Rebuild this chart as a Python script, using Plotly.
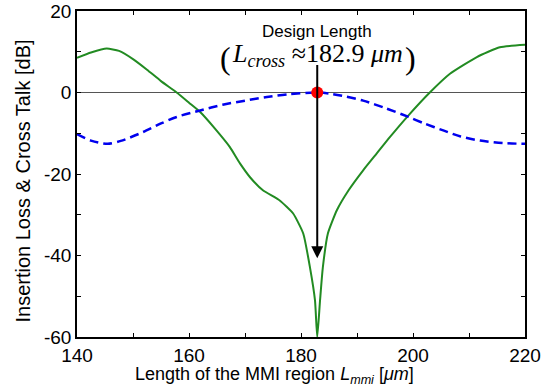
import plotly.graph_objects as go

# Insertion loss (cross port) - green solid
il_x = [140, 142.5, 145.3, 147.5, 150, 152.5, 155, 157.8, 160, 162, 164.9, 167.3, 169.1,
        170.9, 173.2, 176.2, 178.6, 180.4, 181.6, 182.5, 182.9, 183.4, 183.9, 184.8,
        186.4, 188.5, 191.1, 193.5, 195.9, 199.2, 203, 206.6, 211.4, 215.5, 220]
il_y = [8.5, 9.8, 10.8, 10.2, 8.2, 5.6, 2.8, 0, -2.5, -4.8, -9.3, -13.4, -17.4,
        -20.8, -24.0, -26.5, -29.7, -34.6, -42.9, -51, -60, -51, -42.9, -34.6,
        -28.9, -24, -19.1, -15, -10.9, -5.6, 0, 4.6, 8.7, 11.1, 11.7]

# Cross talk - blue dashed
ct_x = [140, 142.5, 145.5, 148, 151.8, 155, 157.8, 162, 166, 170, 173.9, 178, 182.9,
        185.2, 188, 191.1, 195, 199.2, 202, 205.4, 208.5, 212, 216, 220]
ct_y = [-10.2, -11.8, -12.6, -11.8, -9.7, -7.6, -6.0, -4.4, -3.0, -2.0, -1.1, -0.4, 0,
        -0.3, -1.0, -2.0, -3.8, -6.0, -7.6, -9.3, -10.8, -11.8, -12.4, -12.6]

design_x = 182.9
design_y = 0
arrow_top = 7.1
arrow_tip = -40.7

x_ticks = [140, 160, 180, 200, 220]
y_ticks = [-60, -40, -20, 0, 20]
x_minor = [150, 170, 190, 210]
y_minor = [-50, -30, -10, 10]

SANS = "Arial, Liberation Sans"
SERIF = "Times New Roman, Liberation Serif"

fig = go.Figure()
fig.add_trace(go.Scatter(x=il_x, y=il_y, mode="lines", line_shape="spline",
                         line=dict(color="#228B22", width=2, smoothing=0.5), showlegend=False))
fig.add_trace(go.Scatter(x=ct_x, y=ct_y, mode="lines", line_shape="spline",
                         line=dict(color="#0000EE", width=2.5, dash="9px,5px", smoothing=0.8),
                         showlegend=False))

fig.add_annotation(x=design_x, y=arrow_tip, ax=design_x, ay=arrow_top,
                   xref="x", yref="y", axref="x", ayref="y",
                   showarrow=True, arrowhead=2, arrowsize=1.2, arrowwidth=2,
                   arrowcolor="black", text="")
fig.add_trace(go.Scatter(x=[design_x], y=[design_y], mode="markers",
                         marker=dict(color="#FF0000", size=12), showlegend=False))

fig.add_annotation(x=design_x, y=0.938, xref="x", yref="paper", yanchor="middle",
                   text="Design Length", showarrow=False,
                   font=dict(family=SANS, size=17, color="black"))
fig.add_annotation(x=design_x, y=0.866, xref="x", yref="paper", yanchor="middle",
                   text="<i>L</i><sub><i>cross</i></sub> ≈182.9 <i>μm</i>", showarrow=False,
                   font=dict(family=SERIF, size=26, color="black"))
fig.add_annotation(x=166.6, y=0.856, xref="x", yref="paper", yanchor="middle",
                   text="(", showarrow=False,
                   font=dict(family=SERIF, size=32, color="black"))
fig.add_annotation(x=199.6, y=0.856, xref="x", yref="paper", yanchor="middle",
                   text=")", showarrow=False,
                   font=dict(family=SERIF, size=32, color="black"))

# axis titles
fig.add_annotation(x=175.2, y=-0.118, xref="x", yref="paper", yanchor="middle",
                   text="Length of the MMI region <i>L</i><sub><i>mmi</i></sub> [<i>μm</i>]",
                   showarrow=False, font=dict(family=SANS, size=18, color="black"))
fig.add_annotation(x=-0.1205, y=0.477, xref="paper", yref="paper", xanchor="center",
                   yanchor="middle", textangle=-90,
                   text="Insertion Loss &amp; Cross Talk [dB]",
                   showarrow=False, font=dict(family=SANS, size=20, color="black"))

axis_common = dict(showline=True, linecolor="black", linewidth=1.5, mirror="ticks",
                   ticks="inside", ticklen=4, tickcolor="black", tickwidth=1,
                   showgrid=False, automargin=False,
                   tickfont=dict(family=SANS, size=19, color="black"))

fig.update_xaxes(range=[140, 220], tickmode="array", tickvals=x_ticks,
                 ticktext=[str(v) for v in x_ticks], ticklabelstandoff=0,
                 minor=dict(ticks="inside", ticklen=4, tickcolor="black", tickmode="array",
                            tickvals=x_minor),
                 zeroline=False, **axis_common)
fig.update_yaxes(range=[-60, 20], tickmode="array", tickvals=y_ticks,
                 ticktext=[str(v) for v in y_ticks],
                 minor=dict(ticks="inside", ticklen=4, tickcolor="black", tickmode="array",
                            tickvals=y_minor),
                 zeroline=True, zerolinecolor="#555555", zerolinewidth=1,
                 **axis_common)

fig.update_layout(width=550, height=391, margin=dict(l=77, r=25, t=11, b=54),
                  plot_bgcolor="white", paper_bgcolor="white",
                  font=dict(family=SANS, color="black"))

fig.write_html("out.html")
